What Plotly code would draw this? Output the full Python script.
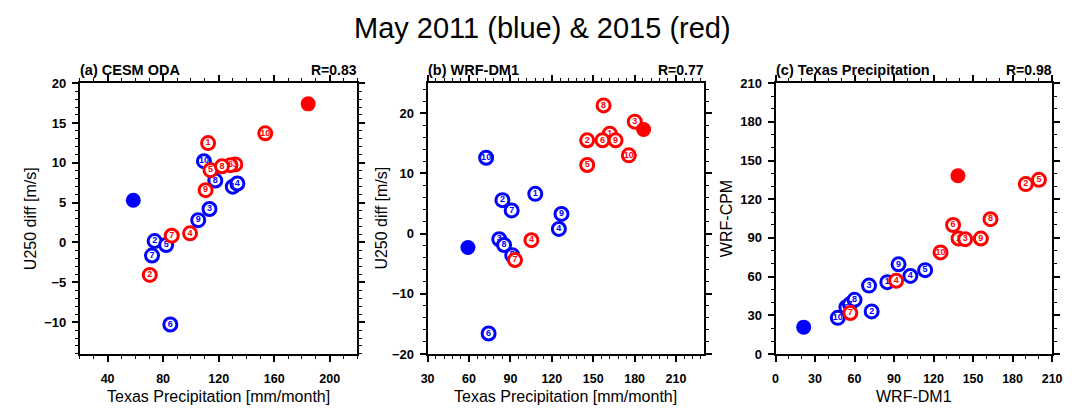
import plotly.graph_objects as go

members = [1, 2, 3, 4, 5, 6, 7, 8, 9, 10]

# Panel (a) CESM ODA: Texas precipitation vs U250 diff
a_blue_x = [130.2, 73.9, 113.4, 133.5, 82.2, 85.2, 72.0, 117.6, 105.3, 109.4]
a_blue_y = [7.0, 0.17, 4.2, 7.4, -0.32, -10.3, -1.65, 7.77, 2.8, 10.2]
a_red_x = [112.4, 70.4, 132.0, 99.4, 114.1, 128.5, 86.2, 122.4, 110.6, 153.6]
a_red_y = [12.47, -4.08, 9.8, 1.14, 9.07, 9.7, 0.85, 9.56, 6.56, 13.7]
a_obs_blue = (58.5, 5.3)
a_obs_red = (184.5, 17.4)

# Panel (b) WRF-DM1
b_blue_x = [108.0, 84.2, 81.9, 125.1, 91.3, 74.2, 90.9, 85.4, 127.0, 72.4]
b_blue_y = [6.6, 5.56, -0.94, 0.77, -3.6, -16.6, 3.85, -1.9, 3.27, 12.6]
b_red_x = [162.0, 145.6, 180.1, 105.2, 145.6, 156.7, 93.3, 157.5, 166.2, 175.8]
b_red_y = [16.6, 15.5, 18.6, -1.1, 11.4, 15.5, -4.4, 21.3, 15.5, 13.0]
b_obs_blue = (59.2, -2.3)
b_obs_red = (186.5, 17.3)

# Panel (c) Texas precipitation: WRF-DM1 vs WRF-CPM
c_blue_x = [84.9, 73.0, 71.0, 102.4, 113.6, 53.8, 56.5, 60.0, 93.4, 47.3]
c_blue_y = [55.7, 33.0, 53.0, 60.5, 65.0, 36.2, 38.5, 42.0, 69.5, 28.0]
c_red_x = [139.0, 190.0, 144.0, 91.6, 200.0, 134.8, 56.8, 163.2, 155.9, 125.3]
c_red_y = [89.5, 131.7, 89.0, 56.7, 135.0, 100.0, 31.7, 104.5, 89.5, 78.75]
c_obs_blue = (21.4, 20.8)
c_obs_red = (138.5, 138.2)

panel_titles = ["(a) CESM ODA", "(b) WRF-DM1", "(c) Texas Precipitation"]
r_values = ["R=0.83", "R=0.77", "R=0.98"]

W, H = 1088, 414
FONT = "Liberation Sans, Arial, sans-serif"
BLUE = "#0000ff"
RED = "#ff0000"

fig = go.Figure()

panels = [
    (a_blue_x, a_blue_y, a_red_x, a_red_y, a_obs_blue, a_obs_red, "x", "y"),
    (b_blue_x, b_blue_y, b_red_x, b_red_y, b_obs_blue, b_obs_red, "x2", "y2"),
    (c_blue_x, c_blue_y, c_red_x, c_red_y, c_obs_blue, c_obs_red, "x3", "y3"),
]

for bx, by, rx, ry, ob, orr, xa, ya in panels:
    for xs, ys, col in [(bx, by, BLUE), (rx, ry, RED)]:
        fig.add_trace(go.Scatter(
            x=xs, y=ys, mode="markers+text", text=[str(m) for m in members],
            textposition="middle center",
            textfont=dict(family=FONT, size=9, color=col, weight="bold"),
            marker=dict(symbol="circle", size=13, color="white",
                        line=dict(color=col, width=3)),
            xaxis=xa, yaxis=ya, showlegend=False, hoverinfo="skip"))
    for pt, col in [(ob, BLUE), (orr, RED)]:
        fig.add_trace(go.Scatter(
            x=[pt[0]], y=[pt[1]], mode="markers",
            marker=dict(symbol="circle", size=15, color=col, line=dict(width=0)),
            xaxis=xa, yaxis=ya, showlegend=False, hoverinfo="skip"))

x_domains = [(74 / W, 356 / W), (427.3 / W, 707.7 / W), (780.7 / W, 1061.7 / W)]
y_domain = (54 / H, 335 / H)

def axis_common(size, standoff):
    return dict(showline=True, linewidth=2, linecolor="black", mirror="ticks",
                ticks="outside", ticklen=6, tickwidth=2, tickcolor="black",
                showgrid=False, zeroline=False, ticklabelstandoff=standoff,
                tickfont=dict(family=FONT, size=size, color="black", weight="bold"))

x_specs = [
    dict(range=[20, 220], tickvals=[40, 80, 120, 160, 200], minor_dtick=10),
    dict(range=[30, 230], tickvals=[30, 60, 90, 120, 150, 180, 210], minor_dtick=6),
    dict(range=[0, 210], tickvals=[0, 30, 60, 90, 120, 150, 180, 210], minor_dtick=10),
]
y_specs = [
    dict(range=[-14, 20], tickvals=[-10, -5, 0, 5, 10, 15, 20], minor_dtick=1),
    dict(range=[-20, 25], tickvals=[-20, -10, 0, 10, 20], minor_dtick=2),
    dict(range=[0, 210], tickvals=[0, 30, 60, 90, 120, 150, 180, 210], minor_dtick=10),
]

layout = dict(width=W, height=H, margin=dict(l=0, r=0, t=0, b=0),
              paper_bgcolor="white", plot_bgcolor="white", showlegend=False)

for i in range(3):
    sx = "" if i == 0 else str(i + 1)
    xs = x_specs[i]
    ys = y_specs[i]
    xa = axis_common(12.5, 6)
    xa.update(domain=list(x_domains[i]), range=xs["range"], tickvals=xs["tickvals"],
              anchor="y" + sx,
              minor=dict(ticks="outside", ticklen=3, tickwidth=1, tickcolor="black",
                         dtick=xs["minor_dtick"], tick0=0))
    ya = axis_common(13, 3)
    ya.update(domain=list(y_domain), range=ys["range"], tickvals=ys["tickvals"],
              anchor="x" + sx,
              minor=dict(ticks="outside", ticklen=3, tickwidth=1, tickcolor="black",
                         dtick=ys["minor_dtick"], tick0=0))
    layout["xaxis" + sx] = xa
    layout["yaxis" + sx] = ya

fig.update_layout(**layout)

ann = []
ann.append(dict(text="May 2011 (blue) & 2015 (red)", x=0.5, y=1 - 22 / H,
                xref="paper", yref="paper", xanchor="center", yanchor="middle",
                showarrow=False, font=dict(family=FONT, size=29, color="black")))
for i in range(3):
    x0, x1 = x_domains[i]
    ann.append(dict(text=panel_titles[i], x=x0 - 2 / W, y=1 - 65 / H, xref="paper", yref="paper",
                    xanchor="left", yanchor="middle", showarrow=False,
                    font=dict(family=FONT, size=14.5, color="black", weight="bold")))
    ann.append(dict(text=r_values[i], x=x1 + 2 / W, y=1 - 65 / H, xref="paper", yref="paper",
                    xanchor="right", yanchor="middle", showarrow=False,
                    font=dict(family=FONT, size=14, color="black", weight="bold")))

x_titles = ["Texas Precipitation [mm/month]", "Texas Precipitation [mm/month]", "WRF-DM1"]
y_titles = ["U250 diff [m/s]", "U250 diff [m/s]", "WRF-CPM"]
y_title_x = [24, 381, 731]
for i in range(3):
    x0, x1 = x_domains[i]
    ann.append(dict(text=x_titles[i], x=(x0 + x1) / 2, y=1 - 404 / H, xref="paper", yref="paper",
                    xanchor="center", yanchor="middle", showarrow=False,
                    font=dict(family=FONT, size=16, color="black")))
    ann.append(dict(text=y_titles[i], x=y_title_x[i] / W, y=(y_domain[0] + y_domain[1]) / 2,
                    xref="paper", yref="paper", xanchor="center", yanchor="middle",
                    textangle=-90, showarrow=False,
                    font=dict(family=FONT, size=16, color="black")))

fig.update_layout(annotations=ann)
fig.write_html("out.html")
